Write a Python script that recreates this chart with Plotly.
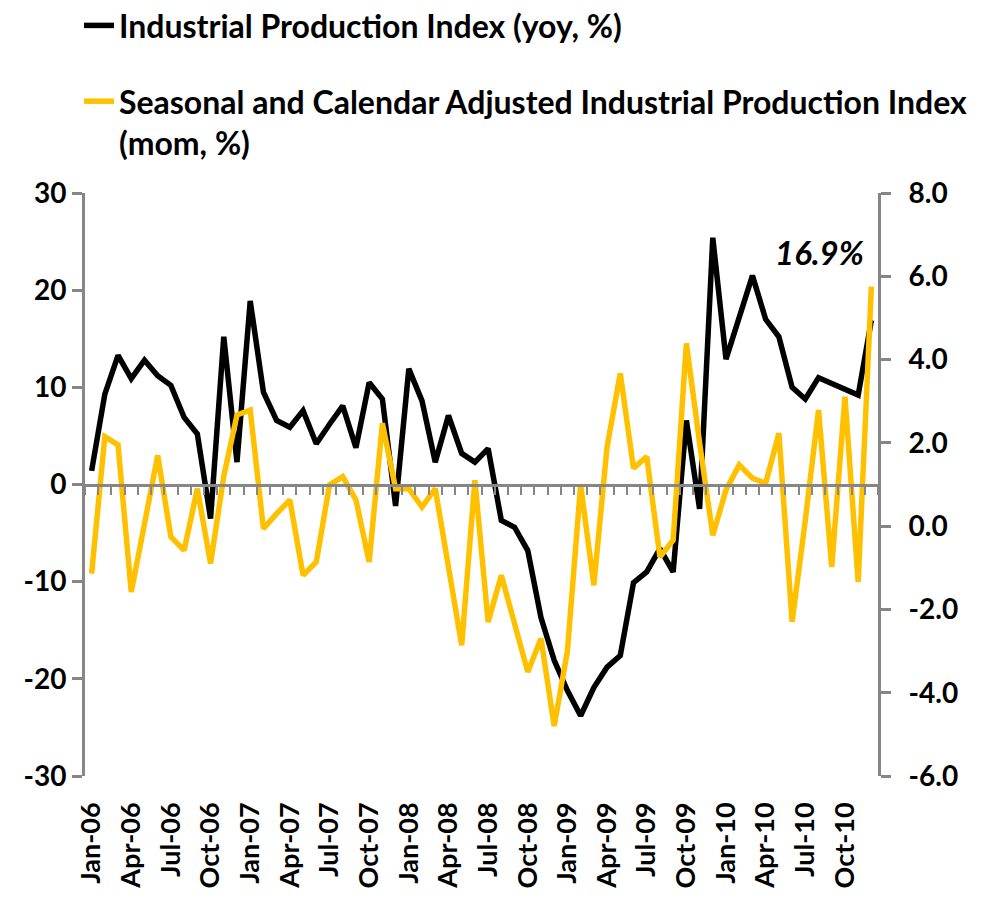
import plotly.graph_objects as go

month_names = ["Jan", "Feb", "Mar", "Apr", "May", "Jun",
               "Jul", "Aug", "Sep", "Oct", "Nov", "Dec"]
years = ["06", "07", "08", "09", "10"]
months = [f"{m}-{y}" for y in years for m in month_names]

# Industrial Production Index (yoy, %) - left axis
ip_yoy = [1.4, 9.3, 13.3, 10.9, 12.8, 11.2, 10.2, 6.9, 5.2, -3.5, 15.2, 2.3,
          18.9, 9.5, 6.6, 5.9, 7.6, 4.2, 6.2, 8.1, 3.8, 10.5, 8.8, -2.2,
          11.9, 8.6, 2.3, 7.1, 3.2, 2.3, 3.7, -3.7, -4.4, -6.8, -13.7, -18.1,
          -21.2, -23.8, -20.9, -18.8, -17.6, -10.1, -9.0, -6.6, -9.0, 6.6, -2.5, 25.4,
          12.9, 17.2, 21.5, 17.0, 15.2, 10.0, 8.8, 11.0, 10.4, 9.8, 9.2, 16.9]

# Seasonal and calendar adjusted IPI (mom, %) - right axis
ip_mom = [-1.14, 2.15, 1.95, -1.58, 0.05, 1.7, -0.26, -0.58, 0.9, -0.9, 1.2, 2.67,
          2.79, -0.06, 0.3, 0.63, -1.18, -0.86, 0.99, 1.19, 0.63, -0.86, 2.47, 0.9,
          0.9, 0.46, 0.9, -0.98, -2.86, 1.1, -2.3, -1.18, -2.3, -3.5, -2.7, -4.8,
          -3.0, 0.99, -1.42, 1.9, 3.67, 1.39, 1.67, -0.74, -0.34, 4.39, 2.0, -0.22,
          0.87, 1.47, 1.15, 1.03, 2.23, -2.3, 0.14, 2.79, -0.98, 3.11, -1.34, 5.75]

x_tick_labels = months[::3]
left_ticks = [-30, -20, -10, 0, 10, 20, 30]
left_tick_labels = ["-30", "-20", "-10", "0", "10", "20", "30"]
right_ticks = [-6, -4, -2, 0, 2, 4, 6, 8]
right_tick_labels = ["-6.0", "-4.0", "-2.0", "0.0", "2.0", "4.0", "6.0", "8.0"]

FONT = "Lato, Carlito, Calibri, sans-serif"
GRAY = "#868686"
GOLD = "#FFC000"

fig = go.Figure()
fig.add_trace(go.Scatter(
    x=months, y=ip_yoy, mode="lines", name="Industrial Production Index (yoy, %)",
    line=dict(color="black", width=5.5), legend="legend",
    xaxis="x", yaxis="y"))
fig.add_trace(go.Scatter(
    x=months, y=ip_mom, mode="lines",
    name="Seasonal and Calendar Adjusted Industrial Production Index<br>(mom, %)",
    line=dict(color=GOLD, width=5.5), legend="legend2",
    xaxis="x2", yaxis="y2"))

legend_font = dict(family=FONT, size=32, color="black", weight="bold")
tick_font = dict(family=FONT, size=28, color="black", weight="bold")

fig.update_layout(
    width=981, height=898,
    margin=dict(l=77, r=111, t=185, b=130, autoexpand=False),
    paper_bgcolor="white", plot_bgcolor="white",
    font=dict(family=FONT, color="black"),
    showlegend=True,
    legend=dict(
        xref="paper", yref="paper", x=-0.0076, y=1.3343,
        xanchor="left", yanchor="top", valign="top",
        font=legend_font, bgcolor="rgba(0,0,0,0)"),
    legend2=dict(
        xref="paper", yref="paper", x=-0.0076, y=1.2043,
        xanchor="left", yanchor="top", valign="top",
        font=legend_font, bgcolor="rgba(0,0,0,0)"),
    xaxis=dict(
        type="category", range=[-0.5, 59.5], domain=[0, 1],
        tickmode="array", tickvals=x_tick_labels, ticktext=x_tick_labels,
        tickangle=-90, showline=False, showgrid=False, zeroline=False,
        ticks="", ticklabelstandoff=20,
        tickfont=dict(family=FONT, size=27, color="black", weight="bold")),
    xaxis2=dict(
        type="category", overlaying="x", range=[-0.5, 59.5], anchor="free", position=0.5,
        showline=True, linecolor=GRAY, linewidth=3, showgrid=False, zeroline=False,
        ticks="outside", tickson="boundaries", ticklen=8, tickwidth=2, tickcolor=GRAY,
        tickmode="linear", tick0=0, dtick=1, showticklabels=False),
    yaxis=dict(
        range=[-30, 30], tickmode="array", tickvals=left_ticks, ticktext=left_tick_labels,
        showline=True, linecolor=GRAY, linewidth=3, ticks="outside", ticklen=10,
        tickwidth=3, tickcolor=GRAY, showgrid=False, zeroline=False,
        tickfont=tick_font),
    yaxis2=dict(
        range=[-6, 8], overlaying="y", side="right", anchor="x",
        tickmode="array", tickvals=right_ticks, ticktext=right_tick_labels,
        showline=True, linecolor=GRAY, linewidth=3, ticks="outside", ticklen=10,
        tickwidth=3, tickcolor=GRAY, showgrid=False, zeroline=False,
        ticklabelstandoff=12, tickfont=tick_font),
    annotations=[dict(
        xref="paper", yref="paper", x=0.9256, y=0.8988, xanchor="center", yanchor="middle",
        text=f"{ip_yoy[-1]:.1f}%", showarrow=False,
        font=dict(family=FONT, size=33, color="black", weight="bold", style="italic"))],
)

fig.write_html("out.html")
